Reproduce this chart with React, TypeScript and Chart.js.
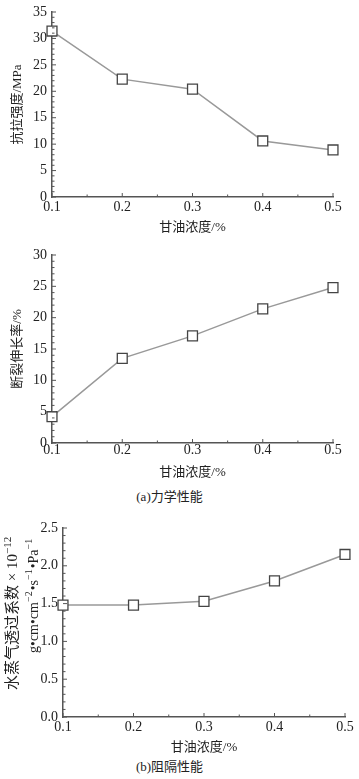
import React, { useEffect, useRef } from "react";
import { Chart, registerables } from "chart.js";

Chart.register(...registerables);

// ---- data ----
const glycerol = [0.1, 0.2, 0.3, 0.4, 0.5];
const tensileStrength = [31.4, 22.3, 20.4, 10.6, 8.9];
const elongation = [4.2, 13.5, 17.1, 21.4, 24.8];
const vaporPermeability = [1.48, 1.48, 1.53, 1.8, 2.15];

const xTitle = "甘油浓度/%";
const yTitleTensile = "抗拉强度/MPa";
const yTitleElong = "断裂伸长率/%";
// [text, isSuperscript]
const yTitleVapor1: [string, boolean][] = [["水蒸气透过系数", false], [" × 10", false], ["−12", true]];
const yTitleVapor2: [string, boolean][] = [
  ["g•cm•cm", false], ["−2", true], ["•s", false], ["−1", true], ["•Pa", false], ["−1", true],
];
const captionA = "(a)力学性能";
const captionB = "(b)阻隔性能";

const W = 359;
const SERIF = "'Liberation Serif', 'Noto Sans CJK SC', serif";
const AXIS = "#555";
const TEXT = "#222";

const inwardTicks = {
  id: "inwardTicks",
  afterDatasetsDraw(chart: any, _args: any, opts: any) {
    const { ctx, chartArea, scales } = chart;
    const x = scales.x;
    const y = scales.y;
    ctx.save();
    ctx.strokeStyle = AXIS;
    ctx.lineWidth = 1;
    ctx.beginPath();
    const nx = Math.round((x.max - x.min) / opts.xMinor);
    for (let i = 0; i <= nx; i++) {
      const px = x.getPixelForValue(x.min + i * opts.xMinor);
      const len = i % opts.xEvery === 0 ? 4 : 2.5;
      ctx.moveTo(px, chartArea.bottom);
      ctx.lineTo(px, chartArea.bottom - len);
    }
    const ny = Math.round((y.max - y.min) / opts.yMinor);
    for (let i = 0; i <= ny; i++) {
      const py = y.getPixelForValue(y.min + i * opts.yMinor);
      const len = i % opts.yEvery === 0 ? 4 : 2.5;
      ctx.moveTo(chartArea.left, py);
      ctx.lineTo(chartArea.left + len, py);
    }
    ctx.stroke();
    ctx.restore();
  },
};

function drawRotatedSegments(ctx: any, x: number, y: number, segs: [string, boolean][], size: number) {
  ctx.save();
  ctx.fillStyle = TEXT;
  ctx.textAlign = "left";
  ctx.textBaseline = "alphabetic";
  ctx.translate(x, y);
  ctx.rotate(-Math.PI / 2);
  let cx = 0;
  const base = size * 0.35;
  for (const [t, sup] of segs) {
    ctx.font = (sup ? Math.round(size * 0.7) : size) + "px " + SERIF;
    ctx.fillText(t, cx, sup ? base - size * 0.45 : base);
    cx += ctx.measureText(t).width + (sup ? 1 : 0);
  }
  ctx.restore();
}

const vaporTitle = {
  id: "vaporTitle",
  afterDraw(chart: any) {
    const { ctx, chartArea } = chart;
    drawRotatedSegments(ctx, 12, chartArea.bottom - 27, yTitleVapor1, 15);
    drawRotatedSegments(ctx, 33, chartArea.bottom - 64, yTitleVapor2, 14);
  },
};

type PanelProps = {
  top: number;
  height: number;
  area: { left: number; right: number; top: number; bottom: number };
  values: number[];
  yMax: number;
  yStep: number;
  yMinor: number;
  yDecimals: number;
  yTitle?: string;
  xTickPad: number;
  xTitlePad: number;
  custom?: boolean;
};

function Panel(p: PanelProps) {
  const ref = useRef<HTMLCanvasElement>(null);
  useEffect(() => {
    const canvas = ref.current!;
    const tickFont = { family: SERIF, size: 14, lineHeight: 1 };
    const chart = new Chart(canvas, {
      type: "line",
      data: {
        datasets: [
          {
            data: glycerol.map((x, i) => ({ x, y: p.values[i] })),
            borderColor: "#999",
            borderWidth: 1.5,
            pointStyle: "rect",
            pointRadius: 7,
            pointBorderColor: "#444",
            pointBorderWidth: 1.3,
            pointBackgroundColor: "#fff",
            clip: false as any,
            tension: 0,
          },
        ],
      },
      options: {
        animation: false,
        responsive: false,
        maintainAspectRatio: false,
        layout: {
          padding: { left: 0, top: p.area.top, right: W - p.area.right, bottom: 0 },
        },
        plugins: {
          legend: { display: false },
          tooltip: { enabled: false },
          inwardTicks: { xMinor: 0.05, xEvery: 2, yMinor: p.yMinor, yEvery: Math.round(p.yStep / p.yMinor) },
        } as any,
        scales: {
          x: {
            type: "linear",
            min: 0.1,
            max: 0.5,
            afterFit: (s: any) => {
              s.height = p.height - p.area.bottom;
            },
            ticks: {
              stepSize: 0.1,
              callback: (v: any) => Number(v).toFixed(1),
              font: tickFont,
              color: TEXT,
              padding: p.xTickPad,
              maxRotation: 0,
              autoSkip: false,
            },
            grid: { display: true, drawOnChartArea: false, drawTicks: false },
            border: { display: true, color: AXIS, width: 1.5 },
            title: {
              display: true,
              text: xTitle,
              color: TEXT,
              font: { family: SERIF, size: 13 },
              padding: { top: 0, bottom: p.xTitlePad },
            },
          },
          y: {
            type: "linear",
            min: 0,
            max: p.yMax,
            afterFit: (s: any) => {
              s.width = p.area.left;
            },
            ticks: {
              stepSize: p.yStep,
              callback: (v: any) => Number(v).toFixed(p.yDecimals),
              font: tickFont,
              color: TEXT,
              padding: 5,
            },
            grid: { display: true, drawOnChartArea: false, drawTicks: false },
            border: { display: true, color: AXIS, width: 1.5 },
            title: {
              display: !!p.yTitle,
              text: p.yTitle || "",
              color: TEXT,
              font: { family: SERIF, size: 13 },
              padding: { top: 10, bottom: 0 },
            },
          },
        },
      } as any,
      plugins: p.custom ? [inwardTicks, vaporTitle] : [inwardTicks],
    });
    return () => chart.destroy();
  }, []);
  return (
    <canvas
      ref={ref}
      width={W}
      height={p.height}
      style={{ position: "absolute", left: 0, top: p.top, width: W, height: p.height }}
    />
  );
}

const captionStyle = (top: number): React.CSSProperties => ({
  position: "absolute",
  top,
  left: 0,
  width: W,
  paddingRight: 20,
  boxSizing: "border-box",
  textAlign: "center",
  fontFamily: SERIF,
  fontSize: 13,
  color: TEXT,
  lineHeight: "16px",
});

export default function App() {
  return (
    <div style={{ position: "absolute", left: 0, top: 0, width: W, height: 779, background: "#fff", overflow: "hidden" }}>
      <Panel
        top={0}
        height={238}
        area={{ left: 52, right: 333, top: 7, bottom: 197 }}
        values={tensileStrength}
        yMax={35}
        yStep={5}
        yMinor={1}
        yDecimals={0}
        yTitle={yTitleTensile}
        xTickPad={3}
        xTitlePad={3}
      />
      <Panel
        top={240}
        height={245}
        area={{ left: 52, right: 333, top: 15, bottom: 203 }}
        values={elongation}
        yMax={30}
        yStep={5}
        yMinor={1}
        yDecimals={0}
        yTitle={yTitleElong}
        xTickPad={0}
        xTitlePad={5}
      />
      <div style={captionStyle(489)}>{captionA}</div>
      <Panel
        top={505}
        height={250}
        area={{ left: 63, right: 345, top: 23, bottom: 212 }}
        values={vaporPermeability}
        yMax={2.5}
        yStep={0.5}
        yMinor={0.1}
        yDecimals={1}
        xTickPad={3}
        xTitlePad={0}
        custom
      />
      <div style={captionStyle(759)}>{captionB}</div>
    </div>
  );
}
